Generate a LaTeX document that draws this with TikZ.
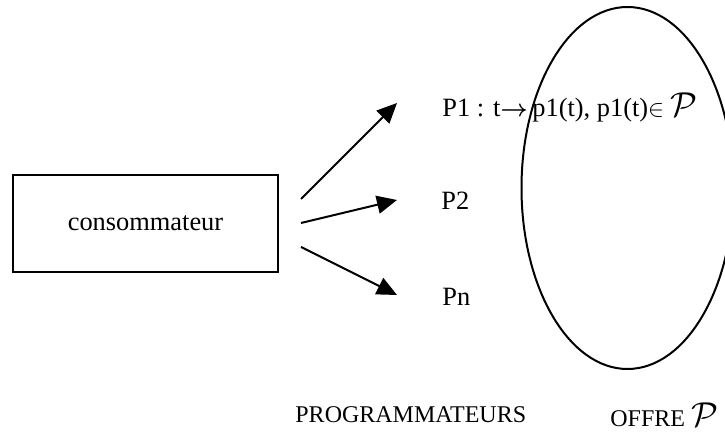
\documentclass[tikz,border=0pt]{standalone}
\usepackage{fontspec}
\setmainfont{Liberation Serif}
\usepackage{amsmath}
\usepackage{bm}
\usetikzlibrary{arrows.meta}
\newcommand{\mytextsize}{\fontsize{13.2}{15}\selectfont}
\newcommand{\mysmallsize}{\fontsize{12}{14}\selectfont}
\newcommand{\offreP}{{\fontsize{16}{18}\selectfont$\mathcal{P}$}}

\begin{document}
\begin{tikzpicture}[x=0.5pt,y=-0.5pt,
  boxstyle/.style={draw, line width=1pt, minimum width=132.5pt, minimum height=48.5pt, font=\mytextsize},
  prog/.style={anchor=base west, inner sep=0pt, font=\mytextsize},
  fleche/.style={line width=1pt, -{Triangle[length=10pt,width=9pt]}}]
\useasboundingbox (0,0) rectangle (725,437);
\clip (0,0) rectangle (725,437);
\begin{scope}
% le consommateur
\node[boxstyle] (conso) at (145.5,223.5) {consommateur};
% les programmateurs
\node[prog] (p1) at (442,117) {P1 : t$\bm{\rightarrow}$\,p1(t), p1(t)$\in$ \offreP};
\node[prog] (p2) at (441,210) {P2};
\node[prog] (pn) at (442,306) {Pn};
\coordinate (s1) at (301,199);
\coordinate (s2) at (301,223);
\coordinate (s3) at (301,247);
\coordinate (t1) at (397,103);
\coordinate (t2) at (397,200);
\coordinate (t3) at (397,295);
\draw[fleche] (s1) -- (t1);
\draw[fleche] (s2) -- (t2);
\draw[fleche] (s3) -- (t3);
% l'offre
\draw[line width=1pt] (627.5,188) ellipse [x radius=106, y radius=181];
\node[anchor=base west, inner sep=0pt, font=\mysmallsize] (progs) at (295,423) {PROGRAMMATEURS};
\node[anchor=base west, inner sep=0pt, font=\mysmallsize] (offre) at (610,427) {OFFRE \offreP};
\end{scope}
\end{tikzpicture}
\end{document}
